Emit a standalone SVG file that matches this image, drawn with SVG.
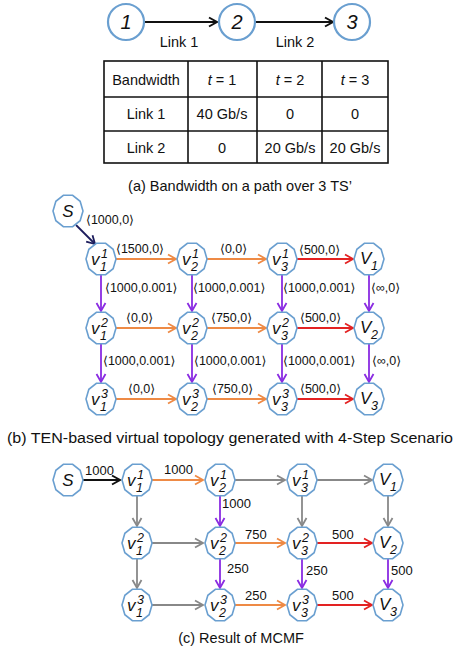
<svg xmlns="http://www.w3.org/2000/svg" xmlns:xlink="http://www.w3.org/1999/xlink" width="461" height="657" viewBox="0 0 461 657">
<defs>
<style>
text{font-family:"Liberation Sans",Arial,"DejaVu Sans",sans-serif;fill:#111}
.cap{font-size:14.5px;text-anchor:middle}
.lbl{font-size:12.5px}
.num{font-size:13px}
.tb{font-size:14.5px;text-anchor:middle}
.it{font-style:italic}
.circ{fill:#fff;stroke:#6a9fd0;stroke-width:2.2}
.node{fill:#fff;stroke:#6a9fd0;stroke-width:1.6}
.nv{font-size:17px;font-style:italic}
.nd{font-size:12.5px;font-style:italic}
.e{fill:none;stroke-width:1.8}
.bk{stroke:#111}
.nv2{stroke:#1c1c5c}
.or{stroke:#ee8a45}
.rd{stroke:#e32222}
.pu{stroke:#8a2be2}
.gy{stroke:#888}
.grid{fill:none;stroke:#111;stroke-width:1.6}
</style>
<polygon id="dec" points="15,0 12.14,9.7 4.64,15.7 -4.64,15.7 -12.14,9.7 -15,0 -12.14,-9.7 -4.64,-15.7 4.64,-15.7 12.14,-9.7"/>
<marker id="mBk" markerWidth="12" markerHeight="12" refX="9" refY="6" orient="auto" markerUnits="userSpaceOnUse"><path d="M1,1.5 L9,6 L1,10.5" fill="none" stroke="#111" stroke-width="2"/></marker>
<marker id="mNv" markerWidth="12" markerHeight="12" refX="9" refY="6" orient="auto" markerUnits="userSpaceOnUse"><path d="M1,1.5 L9,6 L1,10.5" fill="none" stroke="#1c1c5c" stroke-width="1.8"/></marker>
<marker id="mOr" markerWidth="12" markerHeight="12" refX="9" refY="6" orient="auto" markerUnits="userSpaceOnUse"><path d="M1,1.5 L9,6 L1,10.5" fill="none" stroke="#ee8a45" stroke-width="1.8"/></marker>
<marker id="mRd" markerWidth="12" markerHeight="12" refX="9" refY="6" orient="auto" markerUnits="userSpaceOnUse"><path d="M1,1.5 L9,6 L1,10.5" fill="none" stroke="#e32222" stroke-width="1.8"/></marker>
<marker id="mPu" markerWidth="12" markerHeight="12" refX="9" refY="6" orient="auto" markerUnits="userSpaceOnUse"><path d="M1,1.5 L9,6 L1,10.5" fill="none" stroke="#8a2be2" stroke-width="1.8"/></marker>
<marker id="mGy" markerWidth="12" markerHeight="12" refX="9" refY="6" orient="auto" markerUnits="userSpaceOnUse"><path d="M1,1.5 L9,6 L1,10.5" fill="none" stroke="#888" stroke-width="1.8"/></marker>
</defs>
<rect width="461" height="657" fill="#fff"/>

<!-- (a) path -->
<g id="connectors-a">
<line class="e bk" x1="145" y1="22" x2="217" y2="22" stroke-width="2.2" marker-end="url(#mBk)"/>
<line class="e bk" x1="256" y1="22" x2="333" y2="22" stroke-width="2.2" marker-end="url(#mBk)"/>
<text x="179" y="47" font-size="14.5" text-anchor="middle">Link 1</text>
<text x="295" y="47" font-size="14.5" text-anchor="middle">Link 2</text>
</g>
<g id="a-n1"><circle class="circ" cx="126" cy="22" r="18"/><text x="126" y="29" font-size="20" class="it" text-anchor="middle">1</text></g>
<g id="a-n2"><circle class="circ" cx="237" cy="22" r="18"/><text x="237" y="29" font-size="20" class="it" text-anchor="middle">2</text></g>
<g id="a-n3"><circle class="circ" cx="352" cy="22" r="18"/><text x="352" y="29" font-size="20" class="it" text-anchor="middle">3</text></g>

<!-- table -->
<g id="table">
<rect class="grid" x="104" y="61" width="284" height="102"/>
<line class="grid" x1="104" y1="97" x2="388" y2="97"/>
<line class="grid" x1="104" y1="131" x2="388" y2="131"/>
<line class="grid" x1="188" y1="61" x2="188" y2="163"/>
<line class="grid" x1="257" y1="61" x2="257" y2="163"/>
<line class="grid" x1="322" y1="61" x2="322" y2="163"/>
<text class="tb" x="146" y="85">Bandwidth</text>
<text class="tb" x="222" y="85"><tspan class="it">t</tspan> = 1</text>
<text class="tb" x="290" y="85"><tspan class="it">t</tspan> = 2</text>
<text class="tb" x="355" y="85"><tspan class="it">t</tspan> = 3</text>
<text class="tb" x="146" y="119">Link 1</text>
<text class="tb" x="222" y="119">40 Gb/s</text>
<text class="tb" x="290" y="119">0</text>
<text class="tb" x="355" y="119">0</text>
<text class="tb" x="146" y="153">Link 2</text>
<text class="tb" x="222" y="153">0</text>
<text class="tb" x="290" y="153">20 Gb/s</text>
<text class="tb" x="355" y="153">20 Gb/s</text>
</g>
<text class="cap" x="240" y="191">(a) Bandwidth on a path over 3 TS’</text>

<!-- (b) connectors -->
<g id="connectors-b">
<line class="e nv2" x1="76" y1="225" x2="95" y2="244" marker-end="url(#mNv)"/>
<line class="e or" x1="116" y1="259" x2="176" y2="259" marker-end="url(#mOr)"/>
<line class="e or" x1="207" y1="259" x2="266" y2="259" marker-end="url(#mOr)"/>
<line class="e rd" x1="297" y1="259" x2="353" y2="259" marker-end="url(#mRd)"/>
<line class="e or" x1="116" y1="328" x2="176" y2="328" marker-end="url(#mOr)"/>
<line class="e or" x1="207" y1="328" x2="266" y2="328" marker-end="url(#mOr)"/>
<line class="e rd" x1="297" y1="328" x2="353" y2="328" marker-end="url(#mRd)"/>
<line class="e or" x1="116" y1="399" x2="176" y2="399" marker-end="url(#mOr)"/>
<line class="e or" x1="207" y1="399" x2="266" y2="399" marker-end="url(#mOr)"/>
<line class="e rd" x1="297" y1="399" x2="353" y2="399" marker-end="url(#mRd)"/>
<line class="e pu" x1="101" y1="275" x2="101" y2="311" marker-end="url(#mPu)"/>
<line class="e pu" x1="192" y1="275" x2="192" y2="311" marker-end="url(#mPu)"/>
<line class="e pu" x1="282" y1="275" x2="282" y2="311" marker-end="url(#mPu)"/>
<line class="e pu" x1="369" y1="275" x2="369" y2="311" marker-end="url(#mPu)"/>
<line class="e pu" x1="101" y1="344" x2="101" y2="382" marker-end="url(#mPu)"/>
<line class="e pu" x1="192" y1="344" x2="192" y2="382" marker-end="url(#mPu)"/>
<line class="e pu" x1="282" y1="344" x2="282" y2="382" marker-end="url(#mPu)"/>
<line class="e pu" x1="369" y1="344" x2="369" y2="382" marker-end="url(#mPu)"/>
<text class="lbl" x="86" y="224">⟨1000,0⟩</text>
<text class="lbl" x="116" y="253">⟨1500,0⟩</text>
<text class="lbl" x="220" y="253">⟨0,0⟩</text>
<text class="lbl" x="299" y="254">⟨500,0⟩</text>
<text class="lbl" x="105" y="292">⟨1000,0.001⟩</text>
<text class="lbl" x="193" y="292">⟨1000,0.001⟩</text>
<text class="lbl" x="283" y="292">⟨1000,0.001⟩</text>
<text class="lbl" x="371" y="292">⟨∞,0⟩</text>
<text class="lbl" x="126" y="322">⟨0,0⟩</text>
<text class="lbl" x="211" y="322">⟨750,0⟩</text>
<text class="lbl" x="300" y="322">⟨500,0⟩</text>
<text class="lbl" x="103" y="365">⟨1000,0.001⟩</text>
<text class="lbl" x="194" y="365">⟨1000,0.001⟩</text>
<text class="lbl" x="283" y="365">⟨1000,0.001⟩</text>
<text class="lbl" x="372" y="365">⟨∞,0⟩</text>
<text class="lbl" x="128" y="393">⟨0,0⟩</text>
<text class="lbl" x="212" y="393">⟨750,0⟩</text>
<text class="lbl" x="300" y="393">⟨500,0⟩</text>
</g>

<!-- (b) nodes -->
<g id="b-S" transform="translate(68,211)"><use xlink:href="#dec" class="node"/><text class="nv" x="0" y="6" text-anchor="middle">S</text></g>
<g id="b-v11" transform="translate(101,259)"><use xlink:href="#dec" class="node"/><text class="nv" x="-10" y="6">v</text><text class="nd" x="0" y="-1">1</text><text class="nd" x="-1" y="12">1</text></g>
<g id="b-v12" transform="translate(192,259)"><use xlink:href="#dec" class="node"/><text class="nv" x="-10" y="6">v</text><text class="nd" x="0" y="-1">1</text><text class="nd" x="-1" y="12">2</text></g>
<g id="b-v13" transform="translate(282,259)"><use xlink:href="#dec" class="node"/><text class="nv" x="-10" y="6">v</text><text class="nd" x="0" y="-1">1</text><text class="nd" x="-1" y="12">3</text></g>
<g id="b-V1" transform="translate(369,259)"><use xlink:href="#dec" class="node"/><text class="nv" x="-9" y="5">V</text><text class="nd" x="2" y="11">1</text></g>
<g id="b-v21" transform="translate(101,328)"><use xlink:href="#dec" class="node"/><text class="nv" x="-10" y="6">v</text><text class="nd" x="0" y="-1">2</text><text class="nd" x="-1" y="12">1</text></g>
<g id="b-v22" transform="translate(192,328)"><use xlink:href="#dec" class="node"/><text class="nv" x="-10" y="6">v</text><text class="nd" x="0" y="-1">2</text><text class="nd" x="-1" y="12">2</text></g>
<g id="b-v23" transform="translate(282,328)"><use xlink:href="#dec" class="node"/><text class="nv" x="-10" y="6">v</text><text class="nd" x="0" y="-1">2</text><text class="nd" x="-1" y="12">3</text></g>
<g id="b-V2" transform="translate(369,328)"><use xlink:href="#dec" class="node"/><text class="nv" x="-9" y="5">V</text><text class="nd" x="2" y="11">2</text></g>
<g id="b-v31" transform="translate(101,399)"><use xlink:href="#dec" class="node"/><text class="nv" x="-10" y="6">v</text><text class="nd" x="0" y="-1">3</text><text class="nd" x="-1" y="12">1</text></g>
<g id="b-v32" transform="translate(192,399)"><use xlink:href="#dec" class="node"/><text class="nv" x="-10" y="6">v</text><text class="nd" x="0" y="-1">3</text><text class="nd" x="-1" y="12">2</text></g>
<g id="b-v33" transform="translate(282,399)"><use xlink:href="#dec" class="node"/><text class="nv" x="-10" y="6">v</text><text class="nd" x="0" y="-1">3</text><text class="nd" x="-1" y="12">3</text></g>
<g id="b-V3" transform="translate(369,399)"><use xlink:href="#dec" class="node"/><text class="nv" x="-9" y="5">V</text><text class="nd" x="2" y="11">3</text></g>
<text class="cap" x="230" y="443" font-size="15.5" textLength="446" lengthAdjust="spacingAndGlyphs" style="font-size:15.5px">(b) TEN-based virtual topology generated with 4-Step Scenario</text>

<!-- (c) connectors -->
<g id="connectors-c">
<line class="e bk" x1="83" y1="480" x2="120" y2="480" marker-end="url(#mBk)"/>
<line class="e or" x1="152" y1="480" x2="203" y2="480" marker-end="url(#mOr)"/>
<line class="e gy" x1="235" y1="480" x2="285" y2="480" marker-end="url(#mGy)"/>
<line class="e gy" x1="317" y1="480" x2="372" y2="480" marker-end="url(#mGy)"/>
<line class="e gy" x1="152" y1="543" x2="203" y2="543" marker-end="url(#mGy)"/>
<line class="e or" x1="235" y1="543" x2="285" y2="543" marker-end="url(#mOr)"/>
<line class="e rd" x1="317" y1="543" x2="372" y2="543" marker-end="url(#mRd)"/>
<line class="e gy" x1="152" y1="605" x2="203" y2="605" marker-end="url(#mGy)"/>
<line class="e or" x1="235" y1="605" x2="285" y2="605" marker-end="url(#mOr)"/>
<line class="e rd" x1="317" y1="605" x2="372" y2="605" marker-end="url(#mRd)"/>
<line class="e gy" x1="137" y1="496" x2="137" y2="526" marker-end="url(#mGy)"/>
<line class="e pu" x1="220" y1="496" x2="220" y2="526" marker-end="url(#mPu)"/>
<line class="e gy" x1="302" y1="496" x2="302" y2="526" marker-end="url(#mGy)"/>
<line class="e gy" x1="388" y1="496" x2="388" y2="526" marker-end="url(#mGy)"/>
<line class="e gy" x1="137" y1="559" x2="137" y2="588" marker-end="url(#mGy)"/>
<line class="e pu" x1="220" y1="559" x2="220" y2="588" marker-end="url(#mPu)"/>
<line class="e pu" x1="302" y1="559" x2="302" y2="588" marker-end="url(#mPu)"/>
<line class="e pu" x1="388" y1="559" x2="388" y2="588" marker-end="url(#mPu)"/>
<text class="num" x="85" y="475">1000</text>
<text class="num" x="164" y="474">1000</text>
<text class="num" x="222" y="508">1000</text>
<text class="num" x="245" y="539">750</text>
<text class="num" x="332" y="539">500</text>
<text class="num" x="227" y="573">250</text>
<text class="num" x="306" y="575">250</text>
<text class="num" x="391" y="575">500</text>
<text class="num" x="245" y="600">250</text>
<text class="num" x="332" y="600">500</text>
</g>

<!-- (c) nodes -->
<g id="c-S" transform="translate(68,480)"><use xlink:href="#dec" class="node"/><text class="nv" x="0" y="6" text-anchor="middle">S</text></g>
<g id="c-v11" transform="translate(137,480)"><use xlink:href="#dec" class="node"/><text class="nv" x="-10" y="6">v</text><text class="nd" x="0" y="-1">1</text><text class="nd" x="-1" y="12">1</text></g>
<g id="c-v12" transform="translate(220,480)"><use xlink:href="#dec" class="node"/><text class="nv" x="-10" y="6">v</text><text class="nd" x="0" y="-1">1</text><text class="nd" x="-1" y="12">2</text></g>
<g id="c-v13" transform="translate(302,480)"><use xlink:href="#dec" class="node"/><text class="nv" x="-10" y="6">v</text><text class="nd" x="0" y="-1">1</text><text class="nd" x="-1" y="12">3</text></g>
<g id="c-V1" transform="translate(388,480)"><use xlink:href="#dec" class="node"/><text class="nv" x="-9" y="5">V</text><text class="nd" x="2" y="11">1</text></g>
<g id="c-v21" transform="translate(137,543)"><use xlink:href="#dec" class="node"/><text class="nv" x="-10" y="6">v</text><text class="nd" x="0" y="-1">2</text><text class="nd" x="-1" y="12">1</text></g>
<g id="c-v22" transform="translate(220,543)"><use xlink:href="#dec" class="node"/><text class="nv" x="-10" y="6">v</text><text class="nd" x="0" y="-1">2</text><text class="nd" x="-1" y="12">2</text></g>
<g id="c-v23" transform="translate(302,543)"><use xlink:href="#dec" class="node"/><text class="nv" x="-10" y="6">v</text><text class="nd" x="0" y="-1">2</text><text class="nd" x="-1" y="12">3</text></g>
<g id="c-V2" transform="translate(388,543)"><use xlink:href="#dec" class="node"/><text class="nv" x="-9" y="5">V</text><text class="nd" x="2" y="11">2</text></g>
<g id="c-v31" transform="translate(137,605)"><use xlink:href="#dec" class="node"/><text class="nv" x="-10" y="6">v</text><text class="nd" x="0" y="-1">3</text><text class="nd" x="-1" y="12">1</text></g>
<g id="c-v32" transform="translate(220,605)"><use xlink:href="#dec" class="node"/><text class="nv" x="-10" y="6">v</text><text class="nd" x="0" y="-1">3</text><text class="nd" x="-1" y="12">2</text></g>
<g id="c-v33" transform="translate(302,605)"><use xlink:href="#dec" class="node"/><text class="nv" x="-10" y="6">v</text><text class="nd" x="0" y="-1">3</text><text class="nd" x="-1" y="12">3</text></g>
<g id="c-V3" transform="translate(388,605)"><use xlink:href="#dec" class="node"/><text class="nv" x="-9" y="5">V</text><text class="nd" x="2" y="11">3</text></g>
<text class="cap" x="241" y="643">(c) Result of MCMF</text>
</svg>
